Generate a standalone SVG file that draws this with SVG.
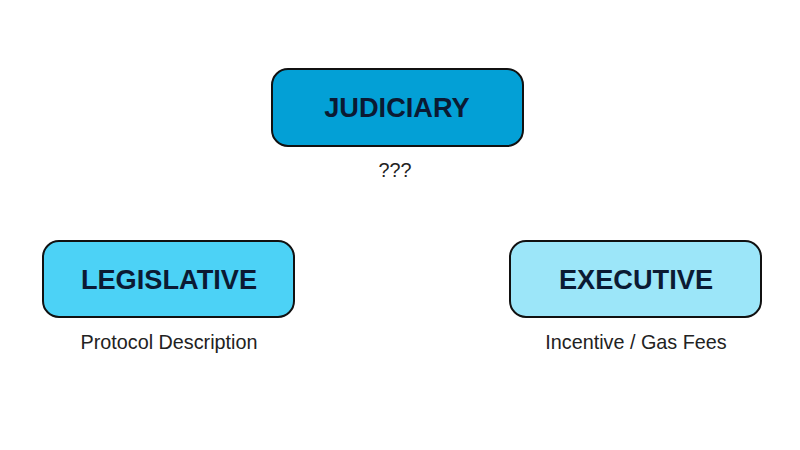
<svg xmlns="http://www.w3.org/2000/svg" width="800" height="450" viewBox="0 0 800 450">
<style>
.box{stroke:#111;stroke-width:2}
.title{font-family:"Liberation Sans",Arial,sans-serif;font-weight:bold;font-size:27.2px;fill:#0b1a33;text-anchor:middle}
.sub{font-family:"Liberation Sans",Arial,sans-serif;font-size:19.8px;fill:#222;text-anchor:middle}
</style>
<rect width="800" height="450" fill="#fff"/>
<g id="connectors"></g>
<g id="judiciary">
<rect class="box" x="272" y="69" width="251" height="77" rx="16" fill="#03a0d6"/>
<text class="title" x="397" y="117">JUDICIARY</text>
<text class="sub" x="395" y="177">???</text>
</g>
<g id="legislative">
<rect class="box" x="43" y="241" width="251" height="76" rx="16" fill="#4cd2f6"/>
<text class="title" x="169" y="289">LEGISLATIVE</text>
<text class="sub" x="169" y="349">Protocol Description</text>
</g>
<g id="executive">
<rect class="box" x="510" y="241" width="251" height="76" rx="16" fill="#9ce6f9"/>
<text class="title" x="636" y="289">EXECUTIVE</text>
<text class="sub" x="636" y="349">Incentive / Gas Fees</text>
</g>
</svg>
